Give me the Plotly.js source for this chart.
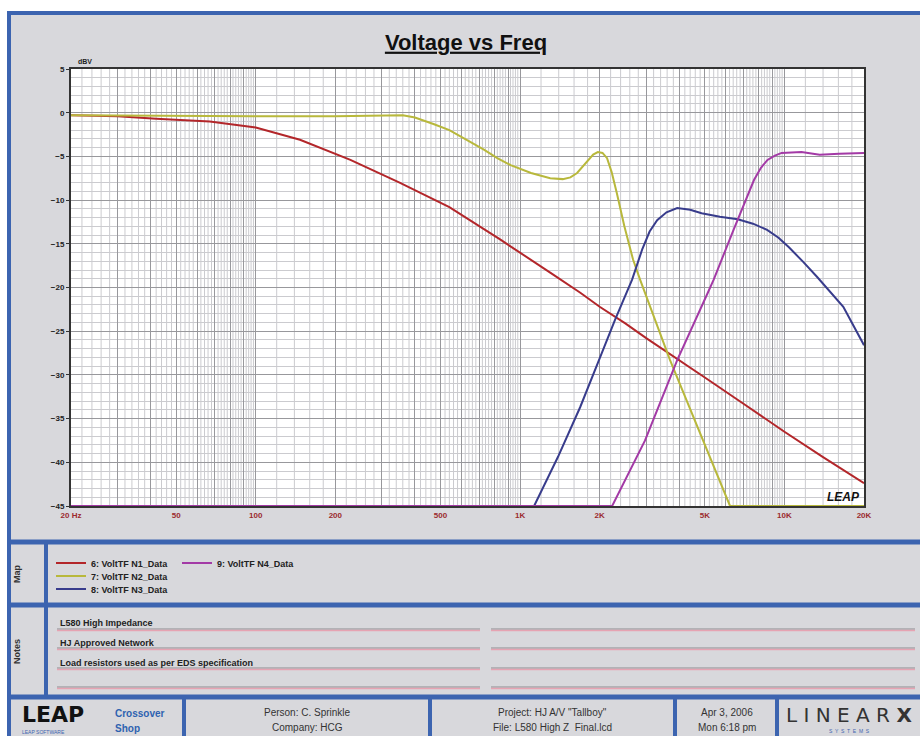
<!DOCTYPE html>
<html>
<head>
<meta charset="utf-8">
<script src="https://cdn.plot.ly/plotly-3.0.1.min.js"></script>
<style>
  body { margin: 0; background: #fff; }
  #chart { width: 920px; height: 736px; }
</style>
</head>
<body>
<div id="chart"></div>
<script>
// Voltage transfer curves
var freqN1 = [20, 30, 42, 67, 100, 147, 228, 350, 540, 840, 1300, 1690, 2000, 2500, 3000, 4000, 5000, 7000, 10000, 14000, 20000];
var dbN1 = [-0.3, -0.4, -0.7, -1.0, -1.7, -3.1, -5.4, -8.0, -10.8, -14.5, -18.3, -20.6, -22.2, -24.1, -25.8, -28.3, -30.3, -33.3, -36.5, -39.4, -42.4];

var freqN2 = [20, 50, 100, 200, 300, 360, 400, 430, 470, 540, 630, 727, 820, 921, 1100, 1300, 1450, 1550, 1643, 1730, 1808, 1890, 1968, 2050, 2133, 2220, 2322, 2480, 2675, 2844, 3692, 4795, 6225, 10000, 20000];
var dbN2 = [-0.3, -0.4, -0.4, -0.4, -0.3, -0.3, -0.55, -0.85, -1.3, -2.0, -3.1, -4.2, -5.2, -6.0, -6.9, -7.5, -7.6, -7.4, -6.9, -6.1, -5.4, -4.8, -4.5, -4.6, -5.2, -6.8, -9.2, -13.0, -16.8, -19.1, -28.3, -36.7, -45, -45, -45];

var freqN3 = [20, 1130, 1390, 1687, 2000, 2286, 2653, 2900, 3090, 3300, 3580, 3930, 4400, 4860, 5700, 6660, 7600, 8600, 9500, 10400, 11800, 13300, 16700, 20000];
var dbN3 = [-45, -45, -39.4, -33.7, -28.1, -23.7, -19.1, -15.6, -13.6, -12.3, -11.4, -10.9, -11.1, -11.5, -11.9, -12.2, -12.7, -13.4, -14.3, -15.4, -17.1, -18.8, -22.2, -26.6];

var freqN4 = [20, 2230, 2970, 3930, 5130, 5400, 6420, 7670, 8150, 8630, 9200, 9760, 11600, 13600, 16100, 20000];
var dbN4 = [-45, -45, -37.5, -28.3, -20.6, -19.1, -13.4, -7.7, -6.3, -5.4, -4.9, -4.6, -4.5, -4.8, -4.7, -4.6];

var seriesNames = ["6: VoltTF N1_Data", "7: VoltTF N2_Data", "8: VoltTF N3_Data", "9: VoltTF N4_Data"];
var seriesColors = ["#b3262a", "#b8b83c", "#383c8c", "#a33aa6"];

var xLabels = {20: "20 Hz", 50: "50", 100: "100", 200: "200", 500: "500",
  1000: "1K", 2000: "2K", 5000: "5K", 10000: "10K", 20000: "20K"};

var noteLines = ["L580 High Impedance", "HJ Approved Network", "Load resistors used as per EDS specification"];

// page geometry (pixels) -> paper coords
var W = 920, H = 736, ML = 71, MR = 56, MT = 69, MB = 230;
var PW = W - ML - MR, PH = H - MT - MB;
function px(x) { return (x - ML) / PW; }
function py(y) { return (H - MB - y) / PH; }

// log grid: darker lines at whole digits, fine lines every 0.2 of a digit
var majorVals = [], majorText = [], minorVals = [];
[10, 100, 1000, 10000].forEach(function (d) {
  for (var m = 10; m < 100; m += 2) {
    var v = Math.round(m * d) / 10;
    if (v < 20 || v > 20000) continue;
    if (m % 10 === 0) {
      majorVals.push(v);
      majorText.push(xLabels[v] || "");
    } else {
      minorVals.push(v);
    }
  }
});
majorVals.push(20000); majorText.push("20K");

var freqs = [freqN1, freqN2, freqN3, freqN4];
var dbs = [dbN1, dbN2, dbN3, dbN4];
var data = freqs.map(function (f, i) {
  return {
    x: f, y: dbs[i], type: "scatter", mode: "lines",
    name: seriesNames[i],
    line: {color: seriesColors[i], width: 2},
    legend: i === 0 ? "legend" : "legend" + (i + 1),
    hoverinfo: "skip"
  };
});

var blue = "#3c64b0";
var fineGrid = "#cbcbcf";
var majorGrid = "#98989c";
var shapes = [];
// fine vertical grid (log axis shapes take plain Hz values here)
minorVals.forEach(function (v) {
  shapes.push({type: "line", xref: "x", yref: "paper", layer: "between",
    x0: v, x1: v, y0: 0, y1: 1, line: {color: fineGrid, width: 1}});
});
function rect(x0, y0, x1, y1, fill) {
  shapes.push({type: "rect", xref: "paper", yref: "paper", layer: "below",
    x0: px(x0), x1: px(x1), y0: py(y0), y1: py(y1),
    fillcolor: fill, line: {width: 0}});
}
function hline(x0, x1, y, c, w) {
  shapes.push({type: "line", xref: "paper", yref: "paper", layer: "below",
    x0: px(x0), x1: px(x1), y0: py(y), y1: py(y), line: {color: c, width: w}});
}
function vline(x, y0, y1, c, w) {
  shapes.push({type: "line", xref: "paper", yref: "paper", layer: "below",
    x0: px(x), x1: px(x), y0: py(y0), y1: py(y1), line: {color: c, width: w}});
}

// white margin outside the frame, then the blue frame and panel bars
rect(0, 0, 920, 11, "#ffffff");
rect(0, 0, 7, 736, "#ffffff");
hline(7, 920, 13, blue, 4);
vline(9, 11, 736, blue, 4);
hline(9, 920, 542, blue, 5);
hline(9, 920, 605, blue, 5);
hline(9, 920, 697, blue, 5);
vline(46, 542, 697, blue, 4);
[184, 430, 675, 777].forEach(function (x) { vline(x, 697, 736, blue, 4); });
[629, 648, 668, 687].forEach(function (y) {
  hline(57, 480, y, "#8c8c90", 1);
  hline(57, 480, y + 1.5, "#e6a3b2", 1.5);
  hline(491, 915, y, "#8c8c90", 1);
  hline(491, 915, y + 1.5, "#e6a3b2", 1.5);
});

var ann = [];
function label(x, y, text, opts) {
  var a = {xref: "paper", yref: "paper", x: px(x), y: py(y), text: text,
    showarrow: false, xanchor: "center", yanchor: "middle",
    font: {family: "Liberation Sans, Arial, sans-serif", size: 10, color: "#333"}};
  for (var k in opts) a[k] = opts[k];
  ann.push(a);
}
label(76, 62, "<b>dBV</b>", {xanchor: "left", font: {family: "Liberation Sans", size: 7, color: "#222"}});
label(862, 497, "<b><i>LEAP</i></b>", {xanchor: "right", font: {family: "Liberation Sans", size: 12, color: "#111"}});
label(17, 573, "<b>Map</b>", {textangle: -90, font: {family: "Liberation Sans", size: 9, color: "#333"}});
label(17, 651, "<b>Notes</b>", {textangle: -90, font: {family: "Liberation Sans", size: 9, color: "#333"}});
noteLines.forEach(function (t, i) {
  label(58, 623 + i * 20, "<b>" + t + "</b>", {xanchor: "left", font: {family: "Liberation Sans", size: 9, color: "#222"}});
});
label(20, 714, "<b>LEAP</b>", {xanchor: "left", font: {family: "DejaVu Sans", size: 22, color: "#111"}});
label(20, 732, "LEAP SOFTWARE", {xanchor: "left", font: {family: "Liberation Sans", size: 5, color: "#3c64b0"}});
label(113, 713, "<b>Crossover</b>", {xanchor: "left", font: {family: "Liberation Sans", size: 10, color: "#2e62b0"}});
label(113, 728, "<b>Shop</b>", {xanchor: "left", font: {family: "Liberation Sans", size: 10, color: "#2e62b0"}});
label(307, 712, "Person: C. Sprinkle");
label(307, 727, "Company: HCG");
label(552, 712, "Project: HJ A/V \"Tallboy\"");
label(552, 727, "File: L580 High Z  Final.lcd");
label(727, 712, "Apr 3, 2006");
label(727, 727, "Mon 6:18 pm");
label(849, 715, "L I N E A R <b>X</b>", {font: {family: "DejaVu Sans", size: 20, color: "#333"}});
label(849, 731, "S  Y  S  T  E  M  S", {font: {family: "Liberation Sans", size: 5, color: "#3c64b0"}});

var legendFont = {family: "Liberation Sans", size: 9, color: "#222", weight: "bold"};
function legendAt(x, y) {
  return {x: px(x), y: py(y), xanchor: "left", yanchor: "middle",
    bgcolor: "rgba(0,0,0,0)", itemwidth: 30, font: legendFont};
}

var layout = {
  width: W, height: H,
  margin: {l: ML, r: MR, t: MT, b: MB},
  paper_bgcolor: "#d8d8dc",
  plot_bgcolor: "#ffffff",
  title: {text: "<b><u>Voltage vs Freq</u></b>", x: 466 / W, xanchor: "center",
    y: 1 - 42 / H, yanchor: "middle",
    font: {family: "Liberation Sans, Arial, sans-serif", size: 22, color: "#111"}},
  xaxis: {
    type: "log", range: [Math.log10(20), Math.log10(20000)],
    tickmode: "array", tickvals: majorVals, ticktext: majorText,
    tickfont: {family: "Liberation Sans", size: 8, color: "#9b2a2e", weight: "bold"},
    ticks: "", showgrid: true, gridcolor: majorGrid, gridwidth: 1,
    showline: true, linecolor: "#333", linewidth: 2, mirror: true, zeroline: false
  },
  yaxis: {
    range: [-45, 5], dtick: 5,
    tickfont: {family: "Liberation Sans", size: 8, color: "#222", weight: "bold"},
    ticks: "outside", ticklen: 3, tickcolor: "#333",
    showgrid: true, gridcolor: majorGrid, gridwidth: 1,
    minor: {dtick: 1, showgrid: true, gridcolor: fineGrid},
    showline: true, linecolor: "#333", linewidth: 2, mirror: true, zeroline: false
  },
  showlegend: true,
  legend: legendAt(51, 563),
  legend2: legendAt(51, 576),
  legend3: legendAt(51, 589),
  legend4: legendAt(177, 563),
  shapes: shapes,
  annotations: ann
};

Plotly.newPlot("chart", data, layout, {displayModeBar: false, staticPlot: true});
</script>
</body>
</html>
